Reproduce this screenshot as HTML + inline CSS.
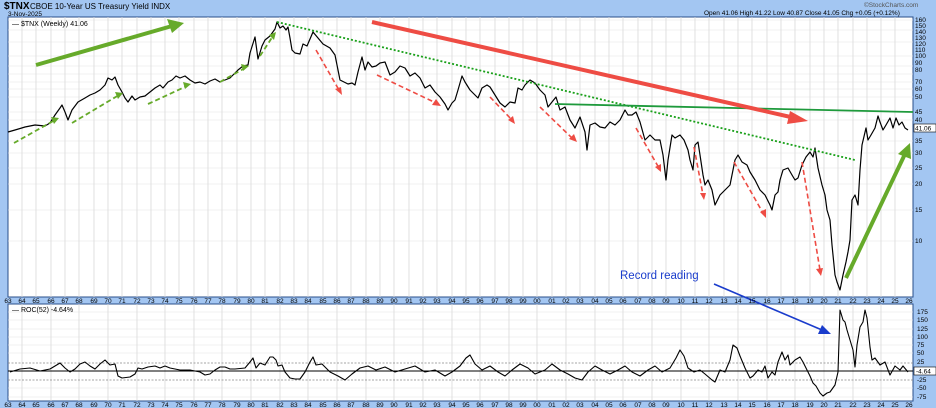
<!DOCTYPE html>
<html><head><meta charset="utf-8"><style>
body{margin:0;background:#a3c6f2;}
svg{display:block;font-family:"Liberation Sans",sans-serif;}
</style></head><body>
<svg width="936" height="408" viewBox="0 0 936 408" xmlns="http://www.w3.org/2000/svg">
<rect width="936" height="408" fill="#a3c6f2"/>
<text x="4" y="9" font-size="10" font-weight="bold" fill="#000">$TNX</text>
<text x="30" y="9" font-size="8" fill="#000">CBOE 10-Year US Treasury Yield INDX</text>
<text x="8" y="16" font-size="6.5" fill="#000">3-Nov-2025</text>
<text x="864" y="7" font-size="6.5" fill="#555">©StockCharts.com</text>
<text x="704" y="15" font-size="6.5" fill="#000">Open 41.06  High 41.22  Low 40.87  Close 41.05  Chg +0.05 (+0.12%)</text>
<rect x="8" y="17" width="905" height="280" fill="#fff" stroke="#2a4f8a" stroke-width="1"/>
<rect x="8" y="304" width="905" height="97" fill="#fff" stroke="#2a4f8a" stroke-width="1"/>
<g id="grid" stroke="#e0e0e0" stroke-width="0.7">
</g>
<g stroke="#e6e6e6" stroke-width="0.6">
<line x1="8" x2="913" y1="20" y2="20"/><line x1="8" x2="913" y1="30" y2="30"/><line x1="8" x2="913" y1="42" y2="42"/><line x1="8" x2="913" y1="56" y2="56"/><line x1="8" x2="913" y1="66" y2="66"/><line x1="8" x2="913" y1="74" y2="74"/><line x1="8" x2="913" y1="82" y2="82"/><line x1="8" x2="913" y1="89" y2="89"/><line x1="8" x2="913" y1="97" y2="97"/><line x1="8" x2="913" y1="112" y2="112"/><line x1="8" x2="913" y1="120" y2="120"/><line x1="8" x2="913" y1="141" y2="141"/><line x1="8" x2="913" y1="153" y2="153"/><line x1="8" x2="913" y1="168" y2="168"/><line x1="8" x2="913" y1="184" y2="184"/><line x1="8" x2="913" y1="210" y2="210"/><line x1="8" x2="913" y1="241" y2="241"/>
<line x1="8" x2="913" y1="312" y2="312"/><line x1="8" x2="913" y1="320" y2="320"/><line x1="8" x2="913" y1="329" y2="329"/><line x1="8" x2="913" y1="337" y2="337"/><line x1="8" x2="913" y1="345" y2="345"/><line x1="8" x2="913" y1="353" y2="353"/><line x1="8" x2="913" y1="388" y2="388"/><line x1="8" x2="913" y1="397" y2="397"/>
</g>
<g stroke="#d8d8d8" stroke-width="0.8">
<line x1="22" x2="22" y1="17" y2="297"/><line x1="36" x2="36" y1="17" y2="297"/><line x1="51" x2="51" y1="17" y2="297"/><line x1="65" x2="65" y1="17" y2="297"/><line x1="79" x2="79" y1="17" y2="297"/><line x1="94" x2="94" y1="17" y2="297"/><line x1="108" x2="108" y1="17" y2="297"/><line x1="122" x2="122" y1="17" y2="297"/><line x1="137" x2="137" y1="17" y2="297"/><line x1="151" x2="151" y1="17" y2="297"/><line x1="165" x2="165" y1="17" y2="297"/><line x1="179" x2="179" y1="17" y2="297"/><line x1="194" x2="194" y1="17" y2="297"/><line x1="208" x2="208" y1="17" y2="297"/><line x1="222" x2="222" y1="17" y2="297"/><line x1="237" x2="237" y1="17" y2="297"/><line x1="251" x2="251" y1="17" y2="297"/><line x1="265" x2="265" y1="17" y2="297"/><line x1="280" x2="280" y1="17" y2="297"/><line x1="294" x2="294" y1="17" y2="297"/><line x1="308" x2="308" y1="17" y2="297"/><line x1="323" x2="323" y1="17" y2="297"/><line x1="337" x2="337" y1="17" y2="297"/><line x1="351" x2="351" y1="17" y2="297"/><line x1="366" x2="366" y1="17" y2="297"/><line x1="380" x2="380" y1="17" y2="297"/><line x1="394" x2="394" y1="17" y2="297"/><line x1="409" x2="409" y1="17" y2="297"/><line x1="423" x2="423" y1="17" y2="297"/><line x1="437" x2="437" y1="17" y2="297"/><line x1="452" x2="452" y1="17" y2="297"/><line x1="466" x2="466" y1="17" y2="297"/><line x1="480" x2="480" y1="17" y2="297"/><line x1="495" x2="495" y1="17" y2="297"/><line x1="509" x2="509" y1="17" y2="297"/><line x1="523" x2="523" y1="17" y2="297"/><line x1="537" x2="537" y1="17" y2="297"/><line x1="552" x2="552" y1="17" y2="297"/><line x1="566" x2="566" y1="17" y2="297"/><line x1="580" x2="580" y1="17" y2="297"/><line x1="595" x2="595" y1="17" y2="297"/><line x1="609" x2="609" y1="17" y2="297"/><line x1="623" x2="623" y1="17" y2="297"/><line x1="638" x2="638" y1="17" y2="297"/><line x1="652" x2="652" y1="17" y2="297"/><line x1="666" x2="666" y1="17" y2="297"/><line x1="681" x2="681" y1="17" y2="297"/><line x1="695" x2="695" y1="17" y2="297"/><line x1="709" x2="709" y1="17" y2="297"/><line x1="724" x2="724" y1="17" y2="297"/><line x1="738" x2="738" y1="17" y2="297"/><line x1="752" x2="752" y1="17" y2="297"/><line x1="767" x2="767" y1="17" y2="297"/><line x1="781" x2="781" y1="17" y2="297"/><line x1="795" x2="795" y1="17" y2="297"/><line x1="810" x2="810" y1="17" y2="297"/><line x1="824" x2="824" y1="17" y2="297"/><line x1="838" x2="838" y1="17" y2="297"/><line x1="853" x2="853" y1="17" y2="297"/><line x1="867" x2="867" y1="17" y2="297"/><line x1="881" x2="881" y1="17" y2="297"/><line x1="895" x2="895" y1="17" y2="297"/>
</g>
<g stroke="#d8d8d8" stroke-width="0.8">
<line x1="22" x2="22" y1="304" y2="401"/><line x1="51" x2="51" y1="304" y2="401"/><line x1="79" x2="79" y1="304" y2="401"/><line x1="108" x2="108" y1="304" y2="401"/><line x1="137" x2="137" y1="304" y2="401"/><line x1="165" x2="165" y1="304" y2="401"/><line x1="194" x2="194" y1="304" y2="401"/><line x1="222" x2="222" y1="304" y2="401"/><line x1="251" x2="251" y1="304" y2="401"/><line x1="280" x2="280" y1="304" y2="401"/><line x1="308" x2="308" y1="304" y2="401"/><line x1="337" x2="337" y1="304" y2="401"/><line x1="366" x2="366" y1="304" y2="401"/><line x1="394" x2="394" y1="304" y2="401"/><line x1="423" x2="423" y1="304" y2="401"/><line x1="452" x2="452" y1="304" y2="401"/><line x1="480" x2="480" y1="304" y2="401"/><line x1="509" x2="509" y1="304" y2="401"/><line x1="537" x2="537" y1="304" y2="401"/><line x1="566" x2="566" y1="304" y2="401"/><line x1="595" x2="595" y1="304" y2="401"/><line x1="623" x2="623" y1="304" y2="401"/><line x1="652" x2="652" y1="304" y2="401"/><line x1="681" x2="681" y1="304" y2="401"/><line x1="709" x2="709" y1="304" y2="401"/><line x1="738" x2="738" y1="304" y2="401"/><line x1="767" x2="767" y1="304" y2="401"/><line x1="795" x2="795" y1="304" y2="401"/><line x1="824" x2="824" y1="304" y2="401"/><line x1="853" x2="853" y1="304" y2="401"/><line x1="881" x2="881" y1="304" y2="401"/>
</g>
<text x="12" y="26" font-size="7" fill="#000">— $TNX (Weekly) 41.06</text>
<text x="12" y="312" font-size="7" fill="#000">— ROC(52) -4.64%</text>

<!-- price -->
<polyline fill="none" stroke="#000" stroke-width="1.2" stroke-linejoin="round" points="8,132 15,130 25,127 35,125 45,126 50,123 55,115 60,108 62,105 65,112 68,120 72,110 78,102 85,98 90,95 95,93 100,90 105,85 108,78 112,80 115,77 118,85 122,92 125,98 128,102 132,96 135,100 140,97 145,96 150,92 155,88 160,85 163,88 168,82 172,80 176,76 180,78 185,76 190,80 195,83 200,82 205,84 210,81 215,79 220,82 230,78 238,70 243,66 248,65 250,53 255,37 258,59 262,46 265,40 270,36 275,29 277,22 280,28 283,26 286,30 288,27 290,38 292,50 295,53 300,54 303,44 307,46 313,32 318,38 323,44 330,48 335,55 340,80 344,82 348,84 352,83 355,85 358,72 362,57 365,70 368,62 372,67 376,66 380,63 385,62 390,75 395,72 400,66 405,68 410,76 415,73 420,78 425,88 430,85 435,92 440,97 445,104 448,110 452,103 455,100 458,90 462,76 465,82 470,90 475,95 478,98 482,88 487,85 490,87 495,95 500,103 505,107 510,102 515,103 518,88 522,90 525,85 530,80 535,83 540,90 545,95 548,107 552,102 556,97 560,110 565,107 570,120 575,128 580,117 585,132 587,150 590,125 595,123 600,127 605,128 610,122 615,125 620,120 625,110 628,115 632,115 636,112 640,122 645,140 650,135 655,140 660,140 663,155 666,180 668,160 672,135 675,138 680,135 684,140 688,150 690,160 693,170 695,145 698,142 700,155 703,175 705,185 708,180 712,190 715,205 720,195 725,190 730,185 735,160 738,155 742,162 747,165 750,172 755,180 760,190 765,195 770,205 772,210 775,195 778,192 780,180 783,170 788,168 792,175 795,180 798,178 802,165 806,157 810,152 813,157 815,148 818,168 822,185 825,195 827,210 830,220 832,245 835,275 837,282 840,290 843,275 846,262 848,252 850,240 852,200 855,195 858,205 860,170 862,145 866,128 868,140 871,135 875,128 878,116 880,122 883,130 886,125 890,118 893,128 896,118 899,125 902,122 905,128 908,130"/>

<!-- trend lines -->
<line x1="277" y1="22" x2="855" y2="160" stroke="#19a019" stroke-width="1.8" stroke-dasharray="2,2"/>
<line x1="555" y1="104" x2="913" y2="112" stroke="#1e9a3c" stroke-width="1.8"/>
<line x1="372" y1="22" x2="795" y2="118" stroke="#ee4c44" stroke-width="4"/>
<polygon points="808,121 790,111 787,124" fill="#ee4c44"/>
<line x1="36" y1="65" x2="172" y2="26" stroke="#66aa2a" stroke-width="4"/>
<polygon points="184,23 167,19 172,33" fill="#66aa2a"/>
<line x1="846" y1="278" x2="905" y2="154" stroke="#66aa2a" stroke-width="4"/>
<polygon points="910,143 898,154 911,159" fill="#66aa2a"/>

<g stroke="#66aa2a" stroke-width="1.8" stroke-dasharray="5,3" fill="none">
<line x1="14" y1="143" x2="55" y2="120"/><line x1="72" y1="123" x2="119" y2="95"/><line x1="148" y1="104" x2="187" y2="86"/><line x1="220" y1="82" x2="245" y2="68"/><line x1="260" y1="56" x2="273" y2="36"/>
</g>
<g fill="#66aa2a"><polygon points="59,118 51,117 54,124"/><polygon points="123,93 115,92 118,99"/><polygon points="191,84 183,82 185,89"/><polygon points="249,66 241,64 243,71"/><polygon points="276,32 269,35 274,40"/></g>

<g stroke="#ee4c44" stroke-width="1.6" stroke-dasharray="5,3" fill="none">
<line x1="316" y1="50" x2="339" y2="90"/><line x1="377" y1="75" x2="436" y2="103"/><line x1="490" y1="97" x2="512" y2="120"/><line x1="540" y1="107" x2="573" y2="139"/><line x1="636" y1="128" x2="659" y2="168"/><line x1="694" y1="147" x2="703" y2="195"/><line x1="734" y1="162" x2="763" y2="213"/><line x1="802" y1="162" x2="820" y2="270"/>
</g>
<g fill="#ee4c44"><polygon points="342,95 335,89 341,87"/><polygon points="441,106 432,105 436,99"/><polygon points="515,124 508,120 513,116"/><polygon points="577,142 569,139 574,134"/><polygon points="661,172 655,167 661,164"/><polygon points="704,200 700,193 706,193"/><polygon points="766,218 760,212 766,209"/><polygon points="821,276 816,269 823,268"/></g>

<text x="620" y="279" font-size="11.5" fill="#1a3ccc">Record reading</text>
<line x1="714" y1="284" x2="822" y2="330" stroke="#1a3ccc" stroke-width="1.6"/>
<polygon points="831,334 818,334 822,325" fill="#1a3ccc"/>

<!-- ROC -->
<line x1="8" x2="913" y1="363" y2="363" stroke="#888" stroke-width="0.7" stroke-dasharray="2,1.5"/>
<line x1="8" x2="913" y1="380" y2="380" stroke="#888" stroke-width="0.7" stroke-dasharray="2,1.5"/>
<line x1="8" x2="913" y1="371" y2="371" stroke="#000" stroke-width="1"/>
<polyline fill="none" stroke="#000" stroke-width="1.1" stroke-linejoin="round" points="10,372 20,369 30,368 40,371 50,369 55,366 60,363 65,368 70,372 75,369 80,364 85,362 90,366 95,369 100,364 105,360 110,365 115,364 118,376 122,378 130,377 135,374 138,368 142,369 148,367 155,366 160,368 165,366 170,368 180,370 190,370 200,372 205,375 210,374 215,370 220,367 225,367 230,369 235,369 245,368 250,362 253,358 256,368 260,363 265,365 270,357 273,357 276,360 278,366 282,365 285,372 290,378 295,379 300,379 305,372 310,362 313,357 316,365 322,364 330,372 338,376 345,380 352,374 360,368 368,366 376,370 385,367 395,372 405,369 415,366 425,372 435,370 445,376 452,372 460,366 466,358 470,355 475,364 482,370 490,366 498,372 505,376 512,370 520,364 528,368 535,374 545,370 552,364 560,370 568,374 575,378 582,380 588,372 595,366 602,370 610,374 618,370 625,366 632,372 640,376 648,370 655,366 662,372 670,368 676,358 680,350 684,356 688,368 694,372 700,370 705,374 712,380 715,382 720,370 725,372 730,360 733,345 737,348 740,356 745,368 750,378 753,376 758,370 762,372 765,366 768,378 772,372 775,375 778,362 782,352 785,360 788,355 790,365 795,360 800,357 803,362 806,368 810,376 813,383 816,386 820,393 823,396 827,393 830,392 835,385 838,372 840,310 843,320 845,322 847,330 850,340 853,350 855,367 857,345 860,327 863,322 865,310 867,318 870,347 872,360 875,358 880,365 885,362 890,375 895,366 900,370 903,366 908,372"/>

<!-- right axis labels -->
<g font-size="6.5" fill="#000">
<text x="915" y="22">160</text><text x="915" y="28">150</text><text x="915" y="34">140</text><text x="915" y="40">130</text><text x="915" y="46">120</text><text x="915" y="52">110</text><text x="915" y="58">100</text><text x="915" y="65">90</text><text x="915" y="72">80</text><text x="915" y="84">70</text><text x="915" y="91">60</text><text x="915" y="99">50</text><text x="915" y="114">45</text><text x="915" y="122">40</text><text x="915" y="143">35</text><text x="915" y="155">30</text><text x="915" y="170">25</text><text x="915" y="186">20</text><text x="915" y="212">15</text><text x="915" y="243">10</text>
<text x="917" y="314">175</text><text x="917" y="322">150</text><text x="917" y="331">125</text><text x="917" y="339">100</text><text x="917" y="347">75</text><text x="917" y="355">50</text><text x="917" y="364">25</text><text x="917" y="382">-25</text><text x="917" y="390">-50</text><text x="917" y="399">-75</text>
</g>
<rect x="914" y="124" width="22" height="8" fill="#fff" stroke="#000" stroke-width="0.6"/>
<text x="915" y="130.5" font-size="6.5" fill="#000">41.06</text>
<rect x="914" y="367" width="22" height="8" fill="#fff" stroke="#000" stroke-width="0.6"/>
<text x="916" y="373.5" font-size="6.5" fill="#000">-4.64</text>

<!-- year labels -->
<g font-size="6.5" fill="#000" text-anchor="middle" id="yl">
<text x="8" y="303">63</text><text x="22" y="303">64</text><text x="36" y="303">65</text><text x="51" y="303">66</text><text x="65" y="303">67</text><text x="79" y="303">68</text><text x="94" y="303">69</text><text x="108" y="303">70</text><text x="122" y="303">71</text><text x="137" y="303">72</text><text x="151" y="303">73</text><text x="165" y="303">74</text><text x="179" y="303">75</text><text x="194" y="303">76</text><text x="208" y="303">77</text><text x="222" y="303">78</text><text x="237" y="303">79</text><text x="251" y="303">80</text><text x="265" y="303">81</text><text x="280" y="303">82</text><text x="294" y="303">83</text><text x="308" y="303">84</text><text x="323" y="303">85</text><text x="337" y="303">86</text><text x="351" y="303">87</text><text x="366" y="303">88</text><text x="380" y="303">89</text><text x="394" y="303">90</text><text x="409" y="303">91</text><text x="423" y="303">92</text><text x="437" y="303">93</text><text x="452" y="303">94</text><text x="466" y="303">95</text><text x="480" y="303">96</text><text x="495" y="303">97</text><text x="509" y="303">98</text><text x="523" y="303">99</text><text x="537" y="303">00</text><text x="552" y="303">01</text><text x="566" y="303">02</text><text x="580" y="303">03</text><text x="595" y="303">04</text><text x="609" y="303">05</text><text x="623" y="303">06</text><text x="638" y="303">07</text><text x="652" y="303">08</text><text x="666" y="303">09</text><text x="681" y="303">10</text><text x="695" y="303">11</text><text x="709" y="303">12</text><text x="724" y="303">13</text><text x="738" y="303">14</text><text x="752" y="303">15</text><text x="767" y="303">16</text><text x="781" y="303">17</text><text x="795" y="303">18</text><text x="810" y="303">19</text><text x="824" y="303">20</text><text x="838" y="303">21</text><text x="853" y="303">22</text><text x="867" y="303">23</text><text x="881" y="303">24</text><text x="895" y="303">25</text><text x="909" y="303">26</text>
</g>
<use href="#yl" y="104"/>
</svg>
</body></html>
